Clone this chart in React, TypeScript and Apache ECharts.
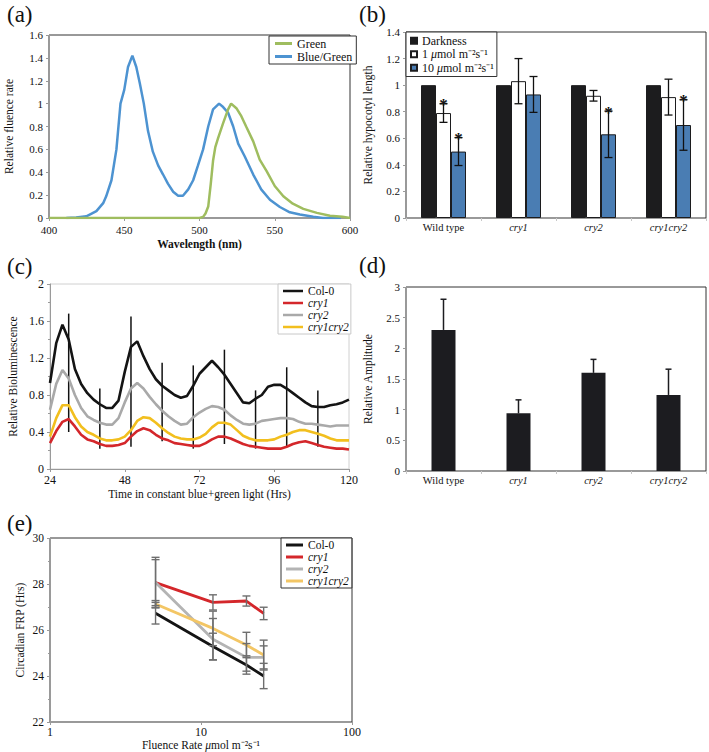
import React, { useEffect, useRef } from 'react';
import * as echarts from 'echarts';

const FONT = 'Liberation Serif';

// ---------- (a) spectra ----------
const blueGreenWavelength = [411.5, 418, 424.8, 431.5, 436, 438, 441.5, 444.8, 447.5, 450, 452.5, 455.4, 458, 460.3, 463, 465.8, 469, 472.5, 475.8, 479, 482.5, 485.8, 489, 492.5, 495.8, 499, 502.4, 505.8, 509, 513, 515.7, 519, 522.4, 525.7, 530, 535.7, 541, 546.8, 553.4, 560, 566.7, 575.6, 582, 594];
const blueGreenFluence = [0, 0.005, 0.015, 0.06, 0.13, 0.19, 0.33, 0.6, 1.0, 1.12, 1.32, 1.42, 1.32, 1.18, 1.0, 0.76, 0.58, 0.46, 0.38, 0.3, 0.23, 0.195, 0.195, 0.25, 0.33, 0.46, 0.6, 0.8, 0.95, 1.0, 0.97, 0.92, 0.8, 0.65, 0.54, 0.38, 0.25, 0.16, 0.096, 0.05, 0.03, 0.01, 0, 0];
const greenWavelength = [400, 500, 502.4, 504, 505.8, 507.5, 509, 510.5, 512.4, 515.7, 519, 521, 524.5, 527.8, 531, 535.7, 540, 544.6, 550, 555.7, 562, 569, 578, 586.7, 595, 600];
const greenFluence = [0, 0, 0.01, 0.04, 0.1, 0.3, 0.5, 0.62, 0.7, 0.83, 0.95, 1.0, 0.96, 0.89, 0.8, 0.67, 0.51, 0.41, 0.28, 0.19, 0.125, 0.08, 0.045, 0.02, 0.01, 0];

// ---------- (b) hypocotyl ----------
const genotypes = ['Wild type', 'cry1', 'cry2', 'cry1cry2'];
const darknessLength = [1, 1, 1, 1];
const lowFluenceLength = [0.79, 1.03, 0.92, 0.91];
const lowFluenceErr = [0.07, 0.17, 0.04, 0.135];
const lowFluenceStar = [1, 0, 0, 0];
const highFluenceLength = [0.5, 0.93, 0.63, 0.7];
const highFluenceErr = [0.105, 0.135, 0.175, 0.19];
const highFluenceStar = [1, 0, 1, 1];

// ---------- (c) bioluminescence ----------
const hours = [24, 26, 28, 30, 32, 34, 36, 38, 40, 42, 44, 46, 48, 50, 52, 54, 56, 58, 60, 62, 64, 66, 68, 70, 72, 74, 76, 78, 80, 82, 84, 86, 88, 90, 92, 94, 96, 98, 100, 102, 104, 106, 108, 110, 112, 114, 116, 118, 120];
const col0Lum = [0.93, 1.36, 1.56, 1.4, 1.08, 0.92, 0.82, 0.75, 0.7, 0.66, 0.66, 0.74, 1.05, 1.32, 1.38, 1.22, 1.08, 0.97, 0.9, 0.85, 0.8, 0.77, 0.79, 0.9, 1.03, 1.1, 1.17, 1.1, 1.02, 0.92, 0.82, 0.72, 0.71, 0.76, 0.8, 0.89, 0.91, 0.91, 0.87, 0.82, 0.77, 0.72, 0.68, 0.67, 0.67, 0.69, 0.7, 0.72, 0.75];
const cry1Lum = [0.28, 0.41, 0.51, 0.54, 0.46, 0.37, 0.32, 0.3, 0.27, 0.25, 0.25, 0.26, 0.28, 0.35, 0.41, 0.44, 0.42, 0.37, 0.33, 0.31, 0.28, 0.27, 0.26, 0.25, 0.25, 0.28, 0.32, 0.35, 0.35, 0.33, 0.3, 0.27, 0.25, 0.24, 0.23, 0.22, 0.22, 0.22, 0.24, 0.27, 0.29, 0.3, 0.28, 0.26, 0.24, 0.23, 0.22, 0.22, 0.21];
const cry2Lum = [0.64, 0.92, 1.07, 0.98, 0.8, 0.66, 0.57, 0.53, 0.5, 0.48, 0.48, 0.55, 0.72, 0.87, 0.93, 0.87, 0.78, 0.7, 0.63, 0.57, 0.52, 0.48, 0.49, 0.56, 0.61, 0.65, 0.68, 0.67, 0.64, 0.58, 0.53, 0.49, 0.48, 0.49, 0.52, 0.53, 0.54, 0.55, 0.55, 0.54, 0.51, 0.49, 0.49, 0.48, 0.47, 0.46, 0.47, 0.47, 0.47];
const cry1cry2Lum = [0.35, 0.55, 0.69, 0.69, 0.56, 0.46, 0.4, 0.37, 0.33, 0.31, 0.31, 0.32, 0.35, 0.42, 0.52, 0.56, 0.55, 0.5, 0.44, 0.39, 0.35, 0.33, 0.32, 0.32, 0.34, 0.38, 0.45, 0.5, 0.5, 0.48, 0.42, 0.36, 0.33, 0.31, 0.31, 0.31, 0.32, 0.35, 0.37, 0.4, 0.42, 0.42, 0.4, 0.38, 0.36, 0.33, 0.31, 0.31, 0.31];
const errHours = [30, 40, 50, 60, 70, 80, 90, 100, 110];
const errLow = [0.4, 0.22, 0.24, 0.3, 0.22, 0.27, 0.22, 0.24, 0.24];
const errHigh = [1.68, 0.87, 1.65, 1.15, 1.12, 1.29, 0.85, 1.1, 0.85];

// ---------- (d) amplitude ----------
const amplitude = [2.3, 0.94, 1.6, 1.24];
const amplitudeErr = [0.5, 0.22, 0.22, 0.42];

// ---------- (e) FRP ----------
const fluenceRates = [5, 12, 20, 26];
const col0FRP = [26.73, 25.28, 24.48, 24.0];
const col0FRPErr = [0.47, 0.58, 0.4, 0.55];
const cry1FRP = [28.06, 27.2, 27.26, 26.72];
const cry1FRPErr = [1.1, 0.33, 0.22, 0.27];
const cry2FRP = [28.06, 25.6, 24.81, 24.81];
const cry2FRPErr = [1.0, 0.9, 0.6, 0.5];
const cry1cry2FRP = [27.13, 26.07, 25.35, 24.91];
const cry1cry2FRPErr = [0.15, 0.75, 0.55, 0.65];

const C_BLACK = '#141414';
const C_RED = '#d4272b';
const C_GRAY = '#a9a9a9';
const C_YELLOW = '#f2bf1e';
const C_YELLOW_E = '#f3c665';
const C_GRAY_E = '#b4b4b4';

const zip = (a: number[], b: number[]) => a.map((v, i) => [v, b[i]]);

const richStyles = (size: number) => ({
  i: { fontStyle: 'italic', fontWeight: 'normal', fontFamily: FONT, fontSize: size, color: '#111' },
  n: { fontStyle: 'normal', fontWeight: 'normal', fontFamily: FONT, fontSize: size, color: '#111' },
});
const italicFmt = (v: string) => (v.startsWith('cry') ? `{i|${v}}` : `{n|${v}}`);
const numFmt = (v: number) => `{n|${String(+Number(v).toFixed(4))}}`;

function valAxis(grid: number, min: number, max: number, interval: number, name: string, nameGap: number, opts: any = {}) {
  const ls = opts.labelSize || 11;
  return {
    type: 'value',
    gridIndex: grid,
    min,
    max,
    interval,
    name,
    nameLocation: 'middle',
    nameGap,
    nameTextStyle: { fontFamily: FONT, fontSize: 11.5, fontWeight: 'normal', color: '#111', ...(opts.nameStyle || {}) },
    axisLine: { show: true, lineStyle: { color: '#9a9a9a', width: 1 } },
    axisTick: { show: true, length: 3, lineStyle: { color: '#9a9a9a' } },
    axisLabel: { fontFamily: FONT, fontWeight: 'normal', fontSize: ls, color: '#111', margin: opts.labelMargin ?? 6, formatter: numFmt, rich: richStyles(ls) },
    splitLine: { show: false },
    minorTick: opts.minor ? { show: true, splitNumber: 2, length: 2, lineStyle: { color: '#9a9a9a' } } : { show: false },
  };
}

function catAxis(grid: number) {
  return {
    type: 'category',
    gridIndex: grid,
    data: genotypes,
    axisLine: { show: true, lineStyle: { color: '#9a9a9a' } },
    axisTick: { show: true, length: 3, lineStyle: { color: '#c8c8c8' } },
    axisLabel: {
      interval: 0,
      hideOverlap: false,
      fontFamily: FONT,
      fontWeight: 'normal',
      fontSize: 10.5,
      color: '#111',
      margin: 4,
      formatter: italicFmt,
      rich: richStyles(10.5),
    },
    splitLine: { show: false },
  };
}

function legend(opts: any) {
  const { fontSize, lineHeight, ...rest } = opts;
  return {
    orient: 'vertical',
    selectedMode: false,
    backgroundColor: '#fff',
    borderWidth: 1,
    borderRadius: 0,
    itemGap: 0,
    align: 'left',
    ...rest,
    textStyle: {
      fontFamily: FONT,
      fontWeight: 'normal',
      fontSize: fontSize || 11,
      color: '#111',
      lineHeight: lineHeight || 12,
      rich: richStyles(fontSize || 11),
    },
  };
}

export default function App() {
  const ref = useRef<HTMLDivElement>(null);

  useEffect(() => {
    document.body.style.margin = '0';
    if (!ref.current) return;
    const chart = echarts.init(ref.current, undefined, { renderer: 'svg' });

    const BAR_FRAC = 0.2;
    const barErr = (k: number, color: string) => (params: any, api: any) => {
      const band = api.size([1, 0])[0];
      const off = (k - 1) * band * BAR_FRAC;
      const i = api.value(0);
      const lo = api.coord([i, api.value(1)]);
      const hi = api.coord([i, api.value(2)]);
      const x = lo[0] + off;
      const cap = 4;
      const ls = { stroke: color, lineWidth: 1.3 };
      const children: any[] = [
        { type: 'line', shape: { x1: x, y1: lo[1], x2: x, y2: hi[1] }, style: ls },
        { type: 'line', shape: { x1: x - cap, y1: lo[1], x2: x + cap, y2: lo[1] }, style: ls },
        { type: 'line', shape: { x1: x - cap, y1: hi[1], x2: x + cap, y2: hi[1] }, style: ls },
      ];
      if (api.value(3)) {
        children.push({
          type: 'text',
          style: { text: '*', x, y: hi[1] + 1, align: 'center', verticalAlign: 'middle', fontFamily: FONT, fontSize: 17, fontWeight: 'bold', fill: '#111' },
        });
      }
      return { type: 'group', children };
    };

    const labelStyle = { fontFamily: FONT, fontSize: 23, fill: '#111' };
    const legendName = (n: string) => italicFmt(n.includes('|') ? n.split('|')[1] : n);

    const option: any = {
      animation: false,
      backgroundColor: '#fff',
      textStyle: { fontFamily: FONT, fontWeight: 'normal' },
      graphic: [
        { type: 'text', left: 7, top: 3, style: { text: '(a)', ...labelStyle } },
        { type: 'text', left: 359, top: 3, style: { text: '(b)', ...labelStyle } },
        { type: 'text', left: 7, top: 255, style: { text: '(c)', ...labelStyle } },
        { type: 'text', left: 359, top: 254, style: { text: '(d)', ...labelStyle } },
        { type: 'text', left: 7, top: 512, style: { text: '(e)', ...labelStyle } },
      ],
      grid: [
        { left: 49, top: 35, width: 301, height: 183, show: true, borderColor: '#333', borderWidth: 1, backgroundColor: 'transparent' },
        { left: 406, top: 32, width: 300, height: 186, show: true, borderColor: '#333', borderWidth: 1, backgroundColor: 'transparent' },
        { left: 50, top: 284, width: 299, height: 185, show: true, borderColor: '#d0d0d0', borderWidth: 1, backgroundColor: 'transparent' },
        { left: 406, top: 287, width: 300, height: 184, show: true, borderColor: '#333', borderWidth: 1, backgroundColor: 'transparent' },
        { left: 50, top: 538, width: 302, height: 184, show: true, borderColor: '#333', borderWidth: 1, backgroundColor: 'transparent' },
      ],
      xAxis: [
        valAxis(0, 400, 600, 50, 'Wavelength (nm)', 20, { nameStyle: { fontWeight: 'bold', fontSize: 11.5 } }),
        catAxis(1),
        valAxis(2, 24, 120, 24, 'Time in constant blue+green light (Hrs)', 19, { labelSize: 12, labelMargin: 5 }),
        catAxis(3),
        {
          type: 'log',
          gridIndex: 4,
          min: 1,
          max: 100,
          logBase: 10,
          name: '{n|Fluence Rate }{i|μ}{n|mol m⁻²s⁻¹}',
          nameLocation: 'middle',
          nameGap: 14,
          nameTextStyle: { fontFamily: FONT, fontWeight: 'normal', fontSize: 11.5, color: '#111', rich: richStyles(11.5) },
          axisLine: { show: true, lineStyle: { color: '#9a9a9a' } },
          axisTick: { show: true, length: 3, lineStyle: { color: '#9a9a9a' } },
          axisLabel: { fontFamily: FONT, fontWeight: 'normal', fontSize: 12, color: '#111', margin: 4, formatter: numFmt, rich: richStyles(12) },
          splitLine: { show: false },
          minorTick: { show: false },
        },
      ],
      yAxis: [
        valAxis(0, 0, 1.6, 0.2, 'Relative fluence rate', 34),
        valAxis(1, 0, 1.4, 0.2, 'Relative hypocotyl length', 32),
        valAxis(2, 0, 2, 0.4, 'Relative Bioluminescence', 31, { labelSize: 12, minor: true }),
        valAxis(3, 0, 3, 0.5, 'Relative Amplitude', 32),
        valAxis(4, 22, 30, 2, 'Circadian FRP (Hrs)', 24, { labelSize: 11.5, minor: true }),
      ],
      legend: [
        legend({
          left: 269, top: 36, padding: [1, 4, 1, 6], borderColor: '#333',
          data: ['Green', 'Blue/Green'], icon: 'rect', itemWidth: 17, itemHeight: 3,
          formatter: legendName, fontSize: 12, lineHeight: 13,
        }),
        legend({
          left: 406, top: 32, padding: [2, 3, 2, 4], borderColor: '#333',
          data: ['Darkness', '1 μmol m⁻²s⁻¹', '10 μmol m⁻²s⁻¹'],
          formatter: (n: string) => (n.includes('μ') ? `{n|${n.split(' ')[0]} }{i|μ}{n|${n.slice(n.indexOf('μ') + 1)}}` : `{n|${n}}`),
          icon: 'rect', itemWidth: 6, itemHeight: 6, fontSize: 12, lineHeight: 13.5,
        }),
        legend({
          left: 278, top: 284, padding: [1, 2, 1, 5], borderColor: '#c8c8c8',
          data: ['Col-0', 'cry1', 'cry2', 'cry1cry2'], icon: 'rect', itemWidth: 20, itemHeight: 2.5,
          formatter: legendName, fontSize: 11.5, lineHeight: 11.8,
        }),
        legend({
          left: 281, top: 538, padding: [1, 3, 1, 5], borderColor: '#333',
          data: ['e|Col-0', 'e|cry1', 'e|cry2', 'e|cry1cry2'], icon: 'rect', itemWidth: 17, itemHeight: 3,
          formatter: legendName, fontSize: 11.5, lineHeight: 11.7,
        }),
      ],
      series: [
        // (a)
        { type: 'line', name: 'Green', xAxisIndex: 0, yAxisIndex: 0, data: zip(greenWavelength, greenFluence), showSymbol: false, symbol: 'none', lineStyle: { color: '#9fbd5f', width: 2.5 }, itemStyle: { color: '#9fbd5f' }, z: 3 },
        { type: 'line', name: 'Blue/Green', xAxisIndex: 0, yAxisIndex: 0, data: zip(blueGreenWavelength, blueGreenFluence), showSymbol: false, symbol: 'none', lineStyle: { color: '#4d93d1', width: 2.5 }, itemStyle: { color: '#4d93d1' }, z: 2 },
        // (b)
        { type: 'bar', name: 'Darkness', xAxisIndex: 1, yAxisIndex: 1, data: darknessLength, barWidth: '20%', barGap: '0%', itemStyle: { color: '#1c1c1e', borderColor: '#1c1c1e', borderWidth: 1 } },
        { type: 'bar', name: '1 μmol m⁻²s⁻¹', xAxisIndex: 1, yAxisIndex: 1, data: lowFluenceLength, barWidth: '20%', barGap: '0%', itemStyle: { color: '#ffffff', borderColor: '#1c1c1e', borderWidth: 1 } },
        { type: 'bar', name: '10 μmol m⁻²s⁻¹', xAxisIndex: 1, yAxisIndex: 1, data: highFluenceLength, barWidth: '20%', barGap: '0%', itemStyle: { color: '#4a7db3', borderColor: '#1c1c1e', borderWidth: 1 } },
        {
          type: 'custom', name: 'errLow', xAxisIndex: 1, yAxisIndex: 1, z: 5,
          data: genotypes.map((_, i) => [i, lowFluenceLength[i] - lowFluenceErr[i], lowFluenceLength[i] + lowFluenceErr[i], lowFluenceStar[i]]),
          renderItem: barErr(1, '#111'),
        },
        {
          type: 'custom', name: 'errHigh', xAxisIndex: 1, yAxisIndex: 1, z: 5,
          data: genotypes.map((_, i) => [i, highFluenceLength[i] - highFluenceErr[i], highFluenceLength[i] + highFluenceErr[i], highFluenceStar[i]]),
          renderItem: barErr(2, '#111'),
        },
        // (c)
        {
          type: 'custom', name: 'errLum', xAxisIndex: 2, yAxisIndex: 2, z: 1,
          data: errHours.map((t, i) => [t, errLow[i], errHigh[i]]),
          renderItem: (params: any, api: any) => {
            const lo = api.coord([api.value(0), api.value(1)]);
            const hi = api.coord([api.value(0), api.value(2)]);
            return { type: 'line', shape: { x1: lo[0], y1: lo[1], x2: hi[0], y2: hi[1] }, style: { stroke: '#111', lineWidth: 1.5 } };
          },
        },
        { type: 'line', name: 'Col-0', xAxisIndex: 2, yAxisIndex: 2, data: zip(hours, col0Lum), showSymbol: false, symbol: 'none', lineStyle: { color: C_BLACK, width: 2.6 }, itemStyle: { color: C_BLACK }, z: 3 },
        { type: 'line', name: 'cry1', xAxisIndex: 2, yAxisIndex: 2, data: zip(hours, cry1Lum), showSymbol: false, symbol: 'none', lineStyle: { color: C_RED, width: 2.6 }, itemStyle: { color: C_RED }, z: 3 },
        { type: 'line', name: 'cry2', xAxisIndex: 2, yAxisIndex: 2, data: zip(hours, cry2Lum), showSymbol: false, symbol: 'none', lineStyle: { color: C_GRAY, width: 2.6 }, itemStyle: { color: C_GRAY }, z: 3 },
        { type: 'line', name: 'cry1cry2', xAxisIndex: 2, yAxisIndex: 2, data: zip(hours, cry1cry2Lum), showSymbol: false, symbol: 'none', lineStyle: { color: C_YELLOW, width: 2.6 }, itemStyle: { color: C_YELLOW }, z: 3 },
        // (d)
        { type: 'bar', name: 'Amplitude', xAxisIndex: 3, yAxisIndex: 3, data: amplitude, barWidth: '32%', itemStyle: { color: '#1c1c20' } },
        {
          type: 'custom', name: 'errAmp', xAxisIndex: 3, yAxisIndex: 3, z: 5,
          data: amplitude.map((v, i) => [i, v, v + amplitudeErr[i]]),
          renderItem: (params: any, api: any) => {
            const lo = api.coord([api.value(0), api.value(1)]);
            const hi = api.coord([api.value(0), api.value(2)]);
            const ls = { stroke: '#1c1c20', lineWidth: 1.5 };
            return {
              type: 'group',
              children: [
                { type: 'line', shape: { x1: lo[0], y1: lo[1], x2: hi[0], y2: hi[1] }, style: ls },
                { type: 'line', shape: { x1: hi[0] - 3, y1: hi[1], x2: hi[0] + 3, y2: hi[1] }, style: ls },
              ],
            };
          },
        },
        // (e)
        ...[
          ['e|Col-0', col0FRP, col0FRPErr, C_BLACK],
          ['e|cry1', cry1FRP, cry1FRPErr, C_RED],
          ['e|cry2', cry2FRP, cry2FRPErr, C_GRAY_E],
          ['e|cry1cry2', cry1cry2FRP, cry1cry2FRPErr, C_YELLOW_E],
        ].flatMap(([name, vals, errs, color]: any) => [
          { type: 'line', name, xAxisIndex: 4, yAxisIndex: 4, data: zip(fluenceRates, vals), showSymbol: false, symbol: 'none', lineStyle: { color, width: 2.8 }, itemStyle: { color }, z: 3 },
          {
            type: 'custom', name: name + '-err', xAxisIndex: 4, yAxisIndex: 4, z: 4,
            data: fluenceRates.map((x, i) => [x, vals[i] - errs[i], vals[i] + errs[i]]),
            renderItem: (params: any, api: any) => {
              const lo = api.coord([api.value(0), api.value(1)]);
              const hi = api.coord([api.value(0), api.value(2)]);
              const ls = { stroke: '#6e6e6e', lineWidth: 1.4 };
              const cap = 4;
              return {
                type: 'group',
                children: [
                  { type: 'line', shape: { x1: lo[0], y1: lo[1], x2: hi[0], y2: hi[1] }, style: ls },
                  { type: 'line', shape: { x1: lo[0] - cap, y1: lo[1], x2: lo[0] + cap, y2: lo[1] }, style: ls },
                  { type: 'line', shape: { x1: hi[0] - cap, y1: hi[1], x2: hi[0] + cap, y2: hi[1] }, style: ls },
                ],
              };
            },
          },
        ]),
      ],
    };

    chart.setOption(option);
    return () => chart.dispose();
  }, []);

  return <div ref={ref} style={{ width: 709, height: 752 }} />;
}
